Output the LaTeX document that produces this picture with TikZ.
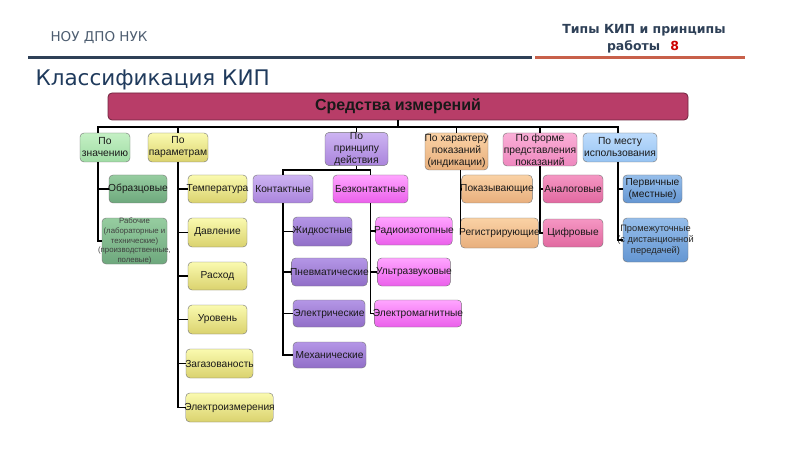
\documentclass[tikz,border=0pt]{standalone}
\usepackage{fontspec}
\setmainfont{Liberation Sans}
\newfontfamily\headfont{DejaVu Sans}
\usepackage{tikz}

\definecolor{navy}{HTML}{2E4057}
\definecolor{rust}{HTML}{C8604A}
\definecolor{titleblue}{HTML}{1F3A5C}
\definecolor{rootfill}{HTML}{B83D68}

\begin{document}
\begin{tikzpicture}[x=1pt,y=-1pt,
  box/.style={draw=black!55, rounded corners=4pt, align=center, inner xsep=-1.5pt, inner ysep=1pt,
    text=black!90, font=\fontsize{10.2}{11.5}\selectfont},
  cat/.style={box, font=\fontsize{10.3}{12}\selectfont, inner ysep=0pt},
  tree/.style={line width=1.9pt, black},
  green1/.style={top color={rgb,255:red,196;green,240;blue,196}, bottom color={rgb,255:red,160;green,220;blue,165}},
  green2/.style={top color={rgb,255:red,150;green,205;blue,160}, bottom color={rgb,255:red,110;green,168;blue,125}},
  yel/.style={top color={rgb,255:red,250;green,250;blue,175}, bottom color={rgb,255:red,218;green,210;blue,110}},
  lav1/.style={top color={rgb,255:red,205;green,180;blue,242}, bottom color={rgb,255:red,170;green,132;blue,220}},
  lav2/.style={top color={rgb,255:red,180;green,150;blue,230}, bottom color={rgb,255:red,145;green,110;blue,200}},
  mag/.style={top color={rgb,255:red,255;green,165;blue,255}, bottom color={rgb,255:red,235;green,95;blue,235}},
  peach/.style={top color={rgb,255:red,250;green,210;blue,165}, bottom color={rgb,255:red,232;green,175;blue,125}},
  pink1/.style={top color={rgb,255:red,250;green,175;blue,215}, bottom color={rgb,255:red,238;green,135;blue,190}},
  pink2/.style={top color={rgb,255:red,245;green,150;blue,195}, bottom color={rgb,255:red,225;green,105;blue,160}},
  blue1/.style={top color={rgb,255:red,190;green,220;blue,252}, bottom color={rgb,255:red,150;green,195;blue,242}},
  blue2/.style={top color={rgb,255:red,150;green,190;blue,235}, bottom color={rgb,255:red,100;green,150;blue,210}}]
\useasboundingbox (0,0) rectangle (800,449);

% header
\node[anchor=west, text=navy!85, font=\headfont\fontsize{13.5}{15}\selectfont] (org) at (47,38) {НОУ ДПО НУК};
\node[text=navy, font=\headfont\bfseries\fontsize{12.5}{15}\selectfont] (tema) at (644,30) {Типы КИП и принципы};
\node[text=navy, font=\headfont\bfseries\fontsize{12.5}{15}\selectfont] (page) at (643,47) {работы\hspace{10pt}\textcolor{red!80!black}{8}};
\draw[line width=3, navy] (28,58) -- (532,58);
\draw[line width=3, rust] (535,58) -- (745,58);
\node[anchor=west, text=titleblue, font=\headfont\fontsize{21.5}{24}\selectfont] (title) at (32,80) {Классификация КИП};

% root
\node[box, fill=rootfill, draw=rootfill!60!black, line width=0.8pt,
  minimum width=580, minimum height=27, font=\bfseries\fontsize{16}{18}\selectfont] (top) at (398,106.5) {Средства измерений};

% categories
\node[cat, green1, minimum width=50, minimum height=29] (zn) at (105,147.5) {По\\значению};
\node[cat, yel, minimum width=60, minimum height=29] (par) at (178,147.5) {По\\параметрам};
\node[cat, lav1, minimum width=63, minimum height=32] (pd) at (356.5,149) {По\\принципу\\действия};
\node[cat, peach, minimum width=63, minimum height=37] (hp) at (456.5,151.5) {По характеру\\показаний\\(индикации)};
\node[cat, pink1, minimum width=74, minimum height=33] (fp) at (540,149.5) {По форме\\представления\\показаний};
\node[cat, blue1, minimum width=74, minimum height=29] (ms) at (620,147.5) {По месту\\использования};

% leaves
\node[box, green2, minimum width=58, minimum height=28] (obr) at (138,189) {Образцовые};
\node[box, green2, minimum width=65, minimum height=46,
  label={[align=center, text=black!75, font=\fontsize{7.8}{9.6}\selectfont]center:{Рабочие\\(лабораторные и\\технические)\\(производственные,\\полевые)}}] (rab) at (134.5,241) {};

\node[box, yel, minimum width=59, minimum height=28] (tem) at (217.5,189) {Температура};
\node[box, yel, minimum width=59, minimum height=29] (dav) at (217.5,232.5) {Давление};
\node[box, yel, minimum width=59, minimum height=28] (ras) at (217.5,276) {Расход};
\node[box, yel, minimum width=59, minimum height=29] (urv) at (217.5,319.5) {Уровень};
\node[box, yel, minimum width=67, minimum height=29] (zag) at (219.5,363.5) {Загазованость};
\node[box, yel, minimum width=85, minimum height=29] (ele) at (229.5,407.5) {Электроизмерения};

\node[box, lav1, minimum width=60, minimum height=28] (kon) at (283,189) {Контактные};
\node[box, mag, minimum width=75, minimum height=28] (bez) at (370.5,189) {Безконтактные};
\node[box, lav2, minimum width=59, minimum height=29] (zhi) at (322.5,231.5) {Жидкостные};
\node[box, lav2, minimum width=73, minimum height=28] (pne) at (329.5,272) {Пневматические};
\node[box, lav2, minimum width=72, minimum height=27] (elk) at (329,313.5) {Электрические};
\node[box, lav2, minimum width=73, minimum height=26] (meh) at (329.5,355) {Механические};
\node[box, mag, minimum width=72, minimum height=28] (rad) at (414,231) {Радиоизотопные};
\node[box, mag, minimum width=72, minimum height=28] (ult) at (414,272) {Ультразвуковые};
\node[box, mag, minimum width=80, minimum height=27] (elm) at (418,313.5) {Электромагнитные};

\node[box, peach, minimum width=66, minimum height=28] (pok) at (497,189) {Показывающие};
\node[box, peach, minimum width=71, minimum height=30] (reg) at (499.5,233) {Регистрирующие};
\node[box, pink2, minimum width=60, minimum height=28] (ana) at (573,189) {Аналоговые};
\node[box, pink2, minimum width=60, minimum height=28] (cif) at (573,233) {Цифровые};
\node[box, blue2, minimum width=59, minimum height=28] (per) at (652.5,189) {Первичные\\(местные)};
\node[box, blue2, minimum width=65, minimum height=44,
  label={[align=center, text=black!85, font=\fontsize{9.3}{11}\selectfont]center:{Промежуточные\\(с дистанционной\\передачей)}}] (pro) at (655.5,240) {};

% connectors
\coordinate (bus) at (398,127);
\draw[tree] (top.south) -- (bus);
\draw[tree] ([xshift=-7]zn.north) |- (bus) -| ([xshift=-2]ms.north);
\foreach \k in {par,pd,hp,fp}
  \draw[tree] (\k.north) -- (\k.north |- bus);

\foreach \k in {obr,rab}
  \draw[tree] ([xshift=-7]zn.south) |- (\k.west);
\foreach \k in {tem,dav,ras,urv,zag,ele}
  \draw[tree] (par.south) |- (\k.west);

\coordinate (pdbar) at (356.5,170);
\draw[tree] (pd.south) -- (pdbar);
\draw[tree] (kon.north) |- (pdbar) -| (bez.north);
\foreach \k in {zhi,pne,elk,meh}
  \draw[tree] (kon.south) |- (\k.west);
\foreach \k in {rad,ult,elm}
  \draw[tree] (bez.south) |- (\k.west);

\foreach \k in {pok,reg}
  \draw[tree] ([xshift=4]hp.south) |- (\k.west);
\foreach \k in {ana,cif}
  \draw[tree] (fp.south) |- (\k.west);
\foreach \k in {per,pro}
  \draw[tree] ([xshift=-2]ms.south) |- (\k.west);

\end{tikzpicture}
\end{document}
